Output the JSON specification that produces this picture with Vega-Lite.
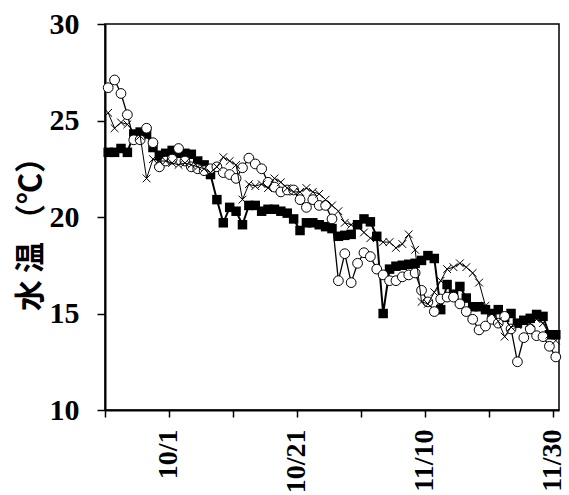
{
  "$schema": "https://vega.github.io/schema/vega-lite/v6.json",
  "width": 454,
  "height": 386,
  "autosize": "none",
  "padding": {"left": 105, "top": 24, "right": 10, "bottom": 85},
  "background": "white",
  "config": {
    "view": {"stroke": "black", "strokeWidth": 1.5},
    "axis": {"grid": false, "domainColor": "black", "domainWidth": 2, "tickColor": "black", "tickWidth": 1.5,
             "labelFont": "Liberation Serif", "labelFontWeight": "bold", "labelColor": "black", "labelFontSize": 28}
  },
  "data": {"values": [
    {"d":"2007-09-21T12:00:00","sq":23.35,"ci":26.7,"cr":25.4},
    {"d":"2007-09-22T12:00:00","sq":23.35,"ci":27.1,"cr":24.6},
    {"d":"2007-09-23T12:00:00","sq":23.55,"ci":26.4,"cr":24.9},
    {"d":"2007-09-24T12:00:00","sq":23.35,"ci":25.3,"cr":24.8},
    {"d":"2007-09-25T12:00:00","sq":24.3,"ci":24.0,"cr":24.4},
    {"d":"2007-09-26T12:00:00","sq":24.4,"ci":24.0,"cr":24.2},
    {"d":"2007-09-27T12:00:00","sq":24.3,"ci":24.6,"cr":22.0},
    {"d":"2007-09-28T12:00:00","sq":23.6,"ci":23.85,"cr":23.0},
    {"d":"2007-09-29T12:00:00","sq":23.2,"ci":22.6,"cr":22.9},
    {"d":"2007-09-30T12:00:00","sq":23.3,"ci":22.9,"cr":22.9},
    {"d":"2007-10-01T12:00:00","sq":23.45,"ci":23.0,"cr":22.8},
    {"d":"2007-10-02T12:00:00","sq":23.3,"ci":23.55,"cr":22.7},
    {"d":"2007-10-03T12:00:00","sq":23.3,"ci":22.9,"cr":22.8},
    {"d":"2007-10-04T12:00:00","sq":23.25,"ci":22.6,"cr":22.7},
    {"d":"2007-10-05T12:00:00","sq":22.9,"ci":22.5,"cr":22.6},
    {"d":"2007-10-06T12:00:00","sq":22.7,"ci":22.4,"cr":22.5},
    {"d":"2007-10-07T12:00:00","sq":22.2,"ci":22.5,"cr":22.3},
    {"d":"2007-10-08T12:00:00","sq":20.9,"ci":22.6,"cr":22.6},
    {"d":"2007-10-09T12:00:00","sq":19.7,"ci":22.3,"cr":23.1},
    {"d":"2007-10-10T12:00:00","sq":20.5,"ci":22.2,"cr":22.9},
    {"d":"2007-10-11T12:00:00","sq":20.3,"ci":22.0,"cr":22.7},
    {"d":"2007-10-12T12:00:00","sq":19.6,"ci":22.55,"cr":20.9},
    {"d":"2007-10-13T12:00:00","sq":20.6,"ci":23.05,"cr":21.7},
    {"d":"2007-10-14T12:00:00","sq":20.6,"ci":22.75,"cr":21.6},
    {"d":"2007-10-15T12:00:00","sq":20.3,"ci":22.5,"cr":21.7},
    {"d":"2007-10-16T12:00:00","sq":20.4,"ci":21.8,"cr":21.5},
    {"d":"2007-10-17T12:00:00","sq":20.4,"ci":21.55,"cr":22.0},
    {"d":"2007-10-18T12:00:00","sq":20.3,"ci":21.3,"cr":21.8},
    {"d":"2007-10-19T12:00:00","sq":20.2,"ci":21.4,"cr":21.5},
    {"d":"2007-10-20T12:00:00","sq":19.9,"ci":21.4,"cr":21.3},
    {"d":"2007-10-21T12:00:00","sq":19.3,"ci":20.9,"cr":21.3},
    {"d":"2007-10-22T12:00:00","sq":19.7,"ci":20.5,"cr":21.5},
    {"d":"2007-10-23T12:00:00","sq":19.7,"ci":20.9,"cr":21.3},
    {"d":"2007-10-24T12:00:00","sq":19.6,"ci":20.6,"cr":21.2},
    {"d":"2007-10-25T12:00:00","sq":19.5,"ci":20.6,"cr":20.9},
    {"d":"2007-10-26T12:00:00","sq":19.4,"ci":19.9,"cr":20.6},
    {"d":"2007-10-27T12:00:00","sq":19.0,"ci":16.7,"cr":20.3},
    {"d":"2007-10-28T12:00:00","sq":19.05,"ci":18.1,"cr":19.7},
    {"d":"2007-10-29T12:00:00","sq":19.1,"ci":16.6,"cr":19.6},
    {"d":"2007-10-30T12:00:00","sq":19.6,"ci":17.6,"cr":19.5},
    {"d":"2007-10-31T12:00:00","sq":19.9,"ci":18.15,"cr":19.2},
    {"d":"2007-11-01T12:00:00","sq":19.75,"ci":17.95,"cr":18.9},
    {"d":"2007-11-02T12:00:00","sq":19.0,"ci":17.3,"cr":18.9},
    {"d":"2007-11-03T12:00:00","sq":15.0,"ci":17.0,"cr":18.7},
    {"d":"2007-11-04T12:00:00","sq":17.3,"ci":16.7,"cr":18.7},
    {"d":"2007-11-05T12:00:00","sq":17.45,"ci":16.7,"cr":18.4},
    {"d":"2007-11-06T12:00:00","sq":17.5,"ci":16.9,"cr":18.6},
    {"d":"2007-11-07T12:00:00","sq":17.55,"ci":17.0,"cr":19.1},
    {"d":"2007-11-08T12:00:00","sq":17.6,"ci":17.1,"cr":18.3},
    {"d":"2007-11-09T12:00:00","sq":17.75,"ci":16.2,"cr":15.6},
    {"d":"2007-11-10T12:00:00","sq":18.0,"ci":15.6,"cr":15.5},
    {"d":"2007-11-11T12:00:00","sq":17.85,"ci":15.1,"cr":16.1},
    {"d":"2007-11-12T12:00:00","sq":15.2,"ci":15.75,"cr":16.7},
    {"d":"2007-11-13T12:00:00","sq":16.5,"ci":15.85,"cr":17.3},
    {"d":"2007-11-14T12:00:00","sq":16.0,"ci":15.85,"cr":17.4},
    {"d":"2007-11-15T12:00:00","sq":16.4,"ci":15.5,"cr":17.6},
    {"d":"2007-11-16T12:00:00","sq":15.8,"ci":15.1,"cr":17.4},
    {"d":"2007-11-17T12:00:00","sq":15.35,"ci":14.7,"cr":17.1},
    {"d":"2007-11-18T12:00:00","sq":15.35,"ci":14.15,"cr":16.6},
    {"d":"2007-11-19T12:00:00","sq":15.2,"ci":14.35,"cr":15.4},
    {"d":"2007-11-20T12:00:00","sq":15.0,"ci":14.7,"cr":15.0},
    {"d":"2007-11-21T12:00:00","sq":15.2,"ci":14.5,"cr":14.6},
    {"d":"2007-11-22T12:00:00","sq":14.8,"ci":14.85,"cr":13.8},
    {"d":"2007-11-23T12:00:00","sq":15.0,"ci":14.2,"cr":14.3},
    {"d":"2007-11-24T12:00:00","sq":14.5,"ci":12.5,"cr":14.4},
    {"d":"2007-11-25T12:00:00","sq":14.65,"ci":13.75,"cr":14.6},
    {"d":"2007-11-26T12:00:00","sq":14.75,"ci":14.2,"cr":14.5},
    {"d":"2007-11-27T12:00:00","sq":14.95,"ci":13.85,"cr":14.7},
    {"d":"2007-11-28T12:00:00","sq":14.85,"ci":13.8,"cr":14.5},
    {"d":"2007-11-29T12:00:00","sq":13.9,"ci":13.3,"cr":13.9},
    {"d":"2007-11-30T12:00:00","sq":13.9,"ci":12.75,"cr":13.6}
  ]},
  "transform": [{"fold": ["sq", "ci", "cr"], "as": ["s", "v"]}],
  "encoding": {
    "x": {"field": "d", "type": "temporal",
          "scale": {"domain": [{"year": 2007, "month": 9, "date": 21}, {"year": 2007, "month": 12, "date": 1}]},
          "axis": {"title": null, "format": "%-m/%-d", "labelAngle": 270, "labelAlign": "right", "labelBaseline": "middle",
                   "tickSize": 7, "labelPadding": 12,
                   "values": [{"year": 2007, "month": 9, "date": 21}, {"year": 2007, "month": 10, "date": 1},
                              {"year": 2007, "month": 10, "date": 11}, {"year": 2007, "month": 10, "date": 21},
                              {"year": 2007, "month": 10, "date": 31}, {"year": 2007, "month": 11, "date": 10},
                              {"year": 2007, "month": 11, "date": 20}, {"year": 2007, "month": 11, "date": 30}],
                   "labelExpr": "indexof(['10/1','10/21','11/10','11/30'], datum.label) >= 0 ? datum.label : ''"}},
    "y": {"field": "v", "type": "quantitative", "scale": {"domain": [10, 30]},
          "axis": {"title": "水 温 （℃）", "values": [10, 15, 20, 25, 30], "tickSize": 8, "labelPadding": 18, "labelFontSize": 30,
                   "titleFont": "Noto Sans CJK JP", "titleFontWeight": "bold", "titleFontSize": 31, "titleColor": "black",
                   "titleAngle": 270, "titleX": -74, "titleY": 202, "titleAlign": "center", "titleBaseline": "middle"}}
  },
  "layer": [
    {"transform": [{"filter": "datum.s == 'sq'"}],
     "mark": {"type": "line", "color": "black", "strokeWidth": 2}, "encoding": {}},
    {"transform": [{"filter": "datum.s == 'sq'"}],
     "mark": {"type": "point", "shape": "square", "filled": true, "color": "black", "size": 90, "opacity": 1}},
    {"transform": [{"filter": "datum.s == 'ci'"}],
     "mark": {"type": "line", "color": "black", "strokeWidth": 1.3}, "encoding": {}},
    {"transform": [{"filter": "datum.s == 'ci'"}],
     "mark": {"type": "point", "shape": "circle", "filled": true, "fill": "white", "stroke": "black", "strokeWidth": 1, "size": 95, "opacity": 1}},
    {"transform": [{"filter": "datum.s == 'cr'"}],
     "mark": {"type": "line", "color": "black", "strokeWidth": 1}, "encoding": {}},
    {"transform": [{"filter": "datum.s == 'cr'"}],
     "mark": {"type": "point", "shape": "M-1,-1L1,1M-1,1L1,-1", "filled": false, "stroke": "black", "strokeWidth": 1, "size": 60, "opacity": 1}}
  ]
}
